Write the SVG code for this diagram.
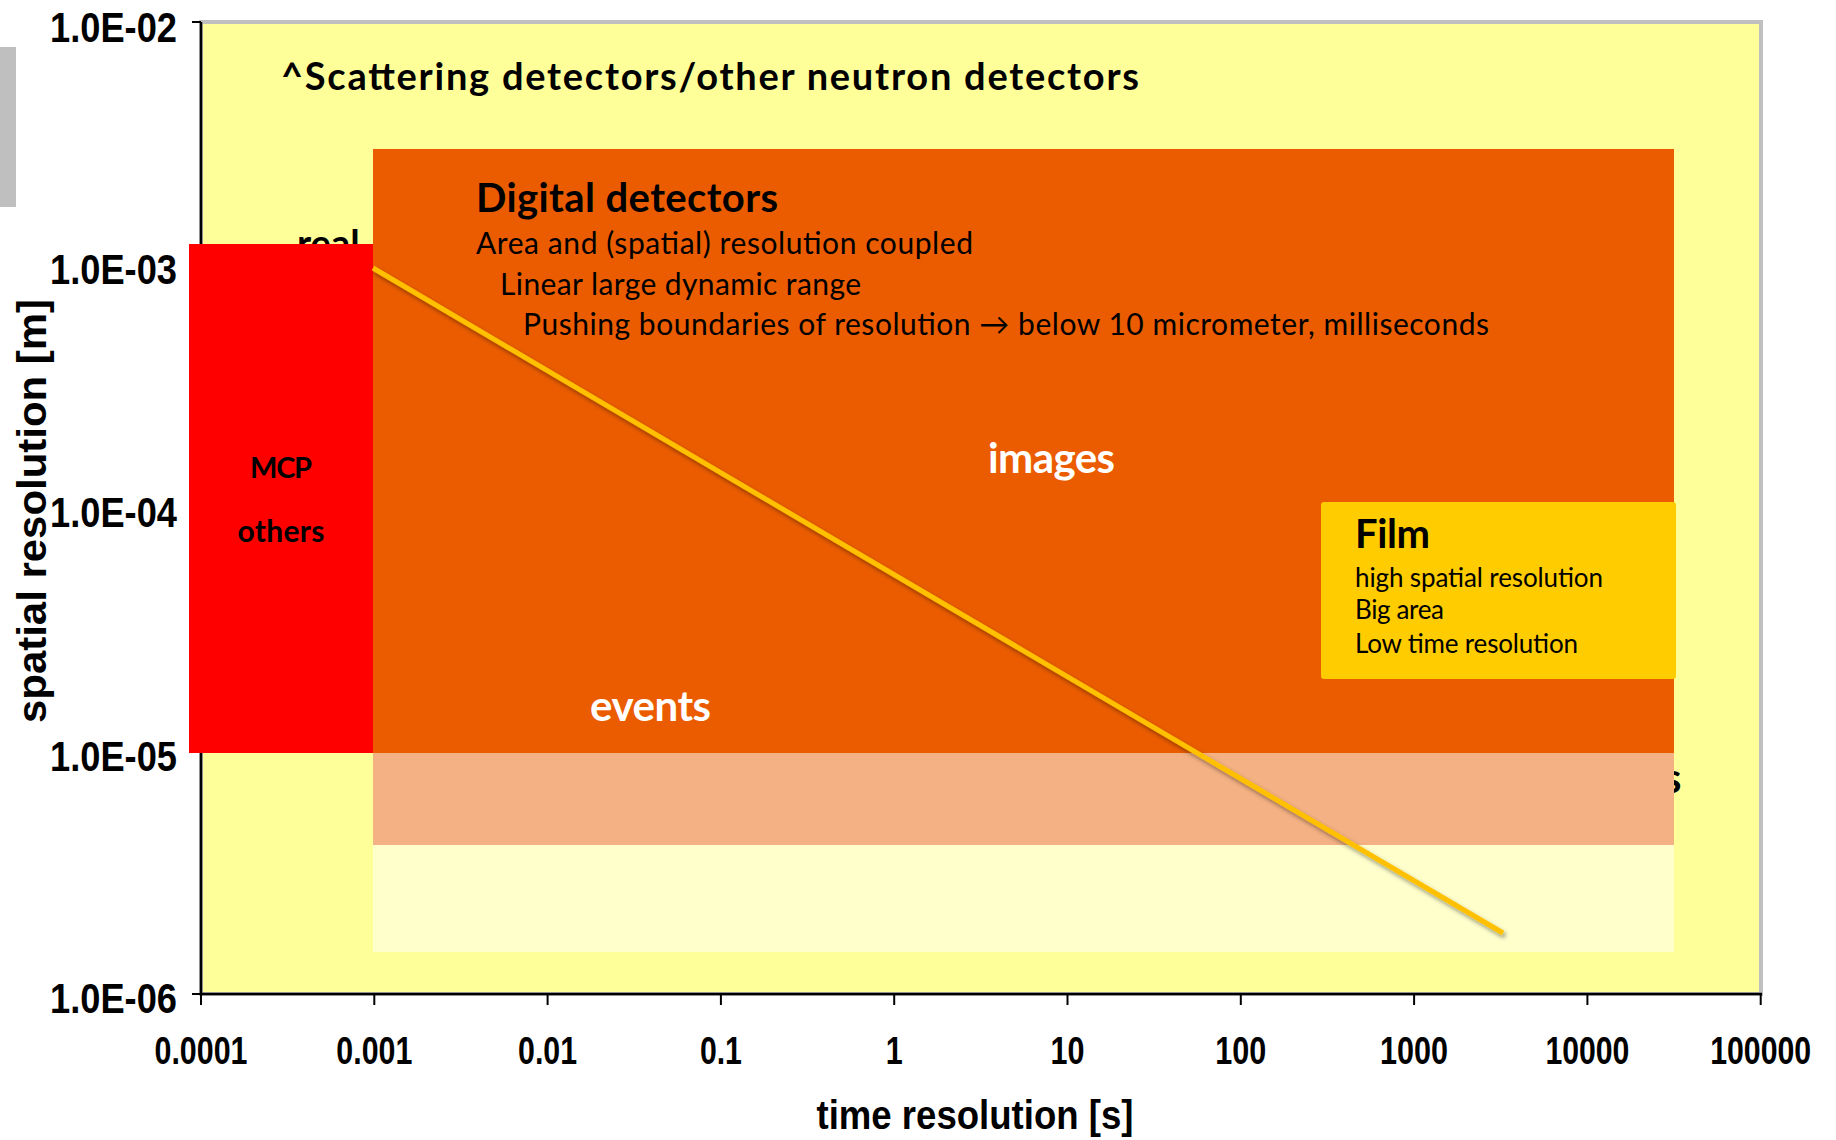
<svg xmlns="http://www.w3.org/2000/svg" width="1836" height="1140" viewBox="0 0 1836 1140">
  <defs>
    <style>
      .cal { font-family: "Lato", "Open Sans", sans-serif; }
      .calb { font-family: "Lato", "Open Sans", sans-serif; font-weight: 700; }
      .ax { font-family: "Liberation Sans", Arial, sans-serif; font-weight: 700; fill: #000; }
      .tick { stroke: #000; stroke-width: 2; }
    </style>
    <filter id="shadow" x="-5%" y="-5%" width="110%" height="110%">
      <feDropShadow dx="2" dy="3" stdDeviation="2" flood-color="#000" flood-opacity="0.4"/>
    </filter>
  </defs>
  <rect x="0" y="0" width="1836" height="1140" fill="#FFFFFF"/>
  <rect x="0" y="47" width="16" height="160" fill="#BFBFBF"/>

  <g id="plot-area">
    <rect x="201" y="22" width="1560" height="972" fill="#FFFF99" stroke="#C0C0C0" stroke-width="4"/>
    <line x1="201" y1="22" x2="201" y2="995" stroke="#000" stroke-width="2.5"/>
    <line x1="200" y1="994" x2="1762" y2="994" stroke="#000" stroke-width="2.5"/>
    <text class="calb" x="281" y="90" font-size="38" textLength="858" lengthAdjust="spacing">^Scattering detectors/other neutron detectors</text>
    <text class="calb" x="297" y="257" font-size="38">real</text>
    <text class="calb" x="1663" y="793" font-size="42">s</text>
  </g>

  <g id="digital-detectors">
    <rect x="373" y="149" width="1301" height="604" fill="#EB5C00"/>
    <text class="calb" x="476" y="212" font-size="40" textLength="302" lengthAdjust="spacing">Digital detectors</text>
    <text class="cal" x="476" y="254" font-size="30" textLength="497" lengthAdjust="spacing">Area and (spatial) resolution coupled</text>
    <text class="cal" x="500" y="295" font-size="30" textLength="361" lengthAdjust="spacing">Linear large dynamic range</text>
    <text class="cal" x="523" y="335" font-size="30" textLength="966" lengthAdjust="spacing">Pushing boundaries of resolution → below 10 micrometer, milliseconds</text>
    <text class="calb" x="988" y="473" font-size="42" fill="#FFFFFF" textLength="127" lengthAdjust="spacing">images</text>
    <text class="calb" x="590" y="721" font-size="42" fill="#FFFFFF" textLength="121" lengthAdjust="spacing">events</text>
  </g>

  <g id="peach-band">
    <rect x="373" y="753" width="1301" height="92" fill="#F4B183"/>
  </g>
  <g id="light-band">
    <rect x="373" y="845" width="1301" height="107" fill="#FFFFCC"/>
  </g>

  <g id="mcp">
    <rect x="189" y="244" width="184" height="509" fill="#FF0000"/>
    <text class="calb" x="281" y="478" font-size="29" text-anchor="middle" textLength="62" lengthAdjust="spacing">MCP</text>
    <text class="calb" x="281" y="542" font-size="30" text-anchor="middle" textLength="87" lengthAdjust="spacing">others</text>
  </g>

  <g id="film">
    <rect x="1321" y="502" width="355" height="177" rx="3" fill="#FFCC00"/>
    <text class="calb" x="1355" y="548" font-size="40" textLength="75" lengthAdjust="spacing">Film</text>
    <text class="cal" x="1355" y="587" font-size="26" textLength="248" lengthAdjust="spacing">high spatial resolution</text>
    <text class="cal" x="1355" y="619" font-size="26" textLength="89" lengthAdjust="spacing">Big area</text>
    <text class="cal" x="1355" y="653" font-size="26" textLength="223" lengthAdjust="spacing">Low time resolution</text>
  </g>

  <g id="connectors">
    <line x1="373" y1="268" x2="1503" y2="933" stroke="#FFC000" stroke-width="5" filter="url(#shadow)"/>
  </g>

  <g id="axes">
    <line class="tick" x1="192" y1="22" x2="201" y2="22"/>
    <line class="tick" x1="192" y1="994" x2="201" y2="994"/>
    <line class="tick" x1="201" y1="994" x2="201" y2="1005"/>
    <line class="tick" x1="374.3" y1="994" x2="374.3" y2="1005"/>
    <line class="tick" x1="547.6" y1="994" x2="547.6" y2="1005"/>
    <line class="tick" x1="720.9" y1="994" x2="720.9" y2="1005"/>
    <line class="tick" x1="894.2" y1="994" x2="894.2" y2="1005"/>
    <line class="tick" x1="1067.5" y1="994" x2="1067.5" y2="1005"/>
    <line class="tick" x1="1240.8" y1="994" x2="1240.8" y2="1005"/>
    <line class="tick" x1="1414.1" y1="994" x2="1414.1" y2="1005"/>
    <line class="tick" x1="1587.4" y1="994" x2="1587.4" y2="1005"/>
    <line class="tick" x1="1760.7" y1="994" x2="1760.7" y2="1005"/>

    <text class="ax" x="177" y="42" font-size="43" text-anchor="end" textLength="127" lengthAdjust="spacingAndGlyphs">1.0E-02</text>
    <text class="ax" x="177" y="284" font-size="43" text-anchor="end" textLength="127" lengthAdjust="spacingAndGlyphs">1.0E-03</text>
    <text class="ax" x="177" y="527" font-size="43" text-anchor="end" textLength="127" lengthAdjust="spacingAndGlyphs">1.0E-04</text>
    <text class="ax" x="177" y="771" font-size="43" text-anchor="end" textLength="127" lengthAdjust="spacingAndGlyphs">1.0E-05</text>
    <text class="ax" x="177" y="1013" font-size="43" text-anchor="end" textLength="127" lengthAdjust="spacingAndGlyphs">1.0E-06</text>

    <text class="ax" x="201" y="1064" font-size="38" text-anchor="middle" textLength="93" lengthAdjust="spacingAndGlyphs">0.0001</text>
    <text class="ax" x="374.3" y="1064" font-size="38" text-anchor="middle" textLength="76" lengthAdjust="spacingAndGlyphs">0.001</text>
    <text class="ax" x="547.6" y="1064" font-size="38" text-anchor="middle" textLength="59" lengthAdjust="spacingAndGlyphs">0.01</text>
    <text class="ax" x="720.9" y="1064" font-size="38" text-anchor="middle" textLength="42" lengthAdjust="spacingAndGlyphs">0.1</text>
    <text class="ax" x="894.2" y="1064" font-size="38" text-anchor="middle" textLength="17" lengthAdjust="spacingAndGlyphs">1</text>
    <text class="ax" x="1067.5" y="1064" font-size="38" text-anchor="middle" textLength="34" lengthAdjust="spacingAndGlyphs">10</text>
    <text class="ax" x="1240.8" y="1064" font-size="38" text-anchor="middle" textLength="51" lengthAdjust="spacingAndGlyphs">100</text>
    <text class="ax" x="1414.1" y="1064" font-size="38" text-anchor="middle" textLength="68" lengthAdjust="spacingAndGlyphs">1000</text>
    <text class="ax" x="1587.4" y="1064" font-size="38" text-anchor="middle" textLength="84" lengthAdjust="spacingAndGlyphs">10000</text>
    <text class="ax" x="1760.7" y="1064" font-size="38" text-anchor="middle" textLength="101" lengthAdjust="spacingAndGlyphs">100000</text>

    <text class="ax" x="975" y="1129" font-size="40" text-anchor="middle" textLength="317" lengthAdjust="spacingAndGlyphs">time resolution [s]</text>
    <text class="ax" x="0" y="0" font-size="40" text-anchor="middle" textLength="424" lengthAdjust="spacingAndGlyphs" transform="translate(46,511) rotate(-90)">spatial resolution [m]</text>
  </g>
</svg>
